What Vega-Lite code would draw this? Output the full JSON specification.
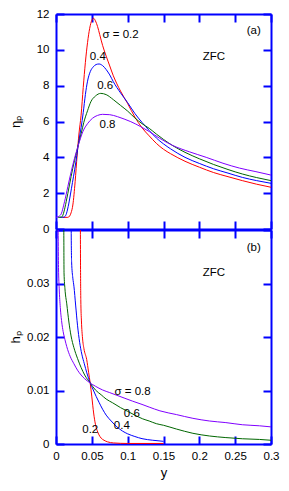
{
  "$schema": "https://vega.github.io/schema/vega-lite/v6.json",
  "padding": {"left": 9, "top": 8, "right": 2, "bottom": 4},
  "background": "white",
  "spacing": 1,
  "bounds": "flush",
  "config": {
    "view": {"stroke": null},
    "font": "Liberation Sans",
    "axis": {
      "grid": false,
      "domainColor": "#0000ff",
      "domainWidth": 2,
      "tickColor": "#0000ff",
      "tickWidth": 2,
      "labelColor": "black",
      "labelFont": "Liberation Sans",
      "labelFontSize": 11.5,
      "titleFont": "Liberation Sans",
      "titleFontSize": 13,
      "titleFontWeight": "normal",
      "titleColor": "black"
    }
  },
  "datasets": {
    "eta": [
      {"s":"0.2","x":0.009,"v":0.65},{"s":"0.2","x":0.0165,"v":0.65},{"s":"0.2","x":0.019,"v":0.72},{"s":"0.2","x":0.021,"v":0.9},{"s":"0.2","x":0.0235,"v":1.34},{"s":"0.2","x":0.0267,"v":2.64},{"s":"0.2","x":0.0295,"v":4.13},{"s":"0.2","x":0.032,"v":5.3},{"s":"0.2","x":0.035,"v":6.35},{"s":"0.2","x":0.038,"v":7.9},{"s":"0.2","x":0.041,"v":9.3},{"s":"0.2","x":0.044,"v":10.4},{"s":"0.2","x":0.047,"v":11.2},{"s":"0.2","x":0.05,"v":11.65},{"s":"0.2","x":0.0525,"v":11.76},{"s":"0.2","x":0.055,"v":11.62},{"s":"0.2","x":0.058,"v":11.3},{"s":"0.2","x":0.061,"v":10.85},{"s":"0.2","x":0.065,"v":10.25},{"s":"0.2","x":0.07,"v":9.65},{"s":"0.2","x":0.075,"v":9.1},{"s":"0.2","x":0.08,"v":8.55},{"s":"0.2","x":0.085,"v":8.1},{"s":"0.2","x":0.09,"v":7.7},{"s":"0.2","x":0.1,"v":7.0},{"s":"0.2","x":0.11,"v":6.25},{"s":"0.2","x":0.12,"v":5.65},{"s":"0.2","x":0.13,"v":5.2},{"s":"0.2","x":0.14,"v":4.78},{"s":"0.2","x":0.15,"v":4.45},{"s":"0.2","x":0.16,"v":4.2},{"s":"0.2","x":0.18,"v":3.78},{"s":"0.2","x":0.2,"v":3.45},{"s":"0.2","x":0.22,"v":3.15},{"s":"0.2","x":0.24,"v":2.92},{"s":"0.2","x":0.26,"v":2.7},{"s":"0.2","x":0.28,"v":2.5},{"s":"0.2","x":0.3,"v":2.33},
      {"s":"0.4","x":0.005,"v":0.65},{"s":"0.4","x":0.011,"v":0.66},{"s":"0.4","x":0.014,"v":0.8},{"s":"0.4","x":0.017,"v":1.25},{"s":"0.4","x":0.02,"v":1.9},{"s":"0.4","x":0.023,"v":2.6},{"s":"0.4","x":0.026,"v":3.3},{"s":"0.4","x":0.029,"v":4.1},{"s":"0.4","x":0.032,"v":4.95},{"s":"0.4","x":0.035,"v":5.65},{"s":"0.4","x":0.038,"v":6.5},{"s":"0.4","x":0.041,"v":7.5},{"s":"0.4","x":0.044,"v":8.25},{"s":"0.4","x":0.048,"v":8.8},{"s":"0.4","x":0.052,"v":9.05},{"s":"0.4","x":0.056,"v":9.18},{"s":"0.4","x":0.06,"v":9.21},{"s":"0.4","x":0.065,"v":9.12},{"s":"0.4","x":0.07,"v":8.9},{"s":"0.4","x":0.075,"v":8.6},{"s":"0.4","x":0.08,"v":8.22},{"s":"0.4","x":0.09,"v":7.6},{"s":"0.4","x":0.1,"v":7.05},{"s":"0.4","x":0.11,"v":6.45},{"s":"0.4","x":0.12,"v":5.95},{"s":"0.4","x":0.13,"v":5.5},{"s":"0.4","x":0.14,"v":5.08},{"s":"0.4","x":0.15,"v":4.75},{"s":"0.4","x":0.16,"v":4.47},{"s":"0.4","x":0.18,"v":4.0},{"s":"0.4","x":0.2,"v":3.66},{"s":"0.4","x":0.22,"v":3.36},{"s":"0.4","x":0.24,"v":3.12},{"s":"0.4","x":0.26,"v":2.88},{"s":"0.4","x":0.28,"v":2.7},{"s":"0.4","x":0.3,"v":2.55},
      {"s":"0.6","x":0.003,"v":0.65},{"s":"0.6","x":0.008,"v":0.67},{"s":"0.6","x":0.011,"v":0.95},{"s":"0.6","x":0.0142,"v":1.52},{"s":"0.6","x":0.0188,"v":2.46},{"s":"0.6","x":0.0234,"v":3.39},{"s":"0.6","x":0.0282,"v":4.22},{"s":"0.6","x":0.0305,"v":4.6},{"s":"0.6","x":0.0352,"v":5.34},{"s":"0.6","x":0.0388,"v":5.95},{"s":"0.6","x":0.044,"v":6.6},{"s":"0.6","x":0.0486,"v":7.1},{"s":"0.6","x":0.055,"v":7.42},{"s":"0.6","x":0.0625,"v":7.57},{"s":"0.6","x":0.07,"v":7.5},{"s":"0.6","x":0.08,"v":7.22},{"s":"0.6","x":0.09,"v":6.9},{"s":"0.6","x":0.1,"v":6.58},{"s":"0.6","x":0.11,"v":6.2},{"s":"0.6","x":0.12,"v":5.88},{"s":"0.6","x":0.13,"v":5.62},{"s":"0.6","x":0.14,"v":5.3},{"s":"0.6","x":0.15,"v":5.0},{"s":"0.6","x":0.163,"v":4.65},{"s":"0.6","x":0.18,"v":4.28},{"s":"0.6","x":0.2,"v":3.92},{"s":"0.6","x":0.22,"v":3.6},{"s":"0.6","x":0.24,"v":3.32},{"s":"0.6","x":0.26,"v":3.07},{"s":"0.6","x":0.28,"v":2.87},{"s":"0.6","x":0.3,"v":2.7},
      {"s":"0.8","x":0.0,"v":0.65},{"s":"0.8","x":0.0063,"v":0.78},{"s":"0.8","x":0.0119,"v":1.52},{"s":"0.8","x":0.0165,"v":2.36},{"s":"0.8","x":0.0212,"v":3.2},{"s":"0.8","x":0.0258,"v":3.94},{"s":"0.8","x":0.0305,"v":4.59},{"s":"0.8","x":0.0374,"v":5.43},{"s":"0.8","x":0.0444,"v":5.9},{"s":"0.8","x":0.0509,"v":6.18},{"s":"0.8","x":0.058,"v":6.34},{"s":"0.8","x":0.065,"v":6.4},{"s":"0.8","x":0.075,"v":6.38},{"s":"0.8","x":0.0858,"v":6.27},{"s":"0.8","x":0.095,"v":6.14},{"s":"0.8","x":0.1044,"v":5.99},{"s":"0.8","x":0.1183,"v":5.71},{"s":"0.8","x":0.1305,"v":5.43},{"s":"0.8","x":0.144,"v":5.08},{"s":"0.8","x":0.163,"v":4.66},{"s":"0.8","x":0.186,"v":4.31},{"s":"0.8","x":0.2096,"v":4.0},{"s":"0.8","x":0.233,"v":3.67},{"s":"0.8","x":0.256,"v":3.4},{"s":"0.8","x":0.279,"v":3.2},{"s":"0.8","x":0.3,"v":3.01}
    ],
    "hp": [
      {"s":"0.2","x":0.0338,"v":0.05},{"s":"0.2","x":0.0342,"v":0.034},{"s":"0.2","x":0.0346,"v":0.027},{"s":"0.2","x":0.0355,"v":0.023},{"s":"0.2","x":0.037,"v":0.0198},{"s":"0.2","x":0.039,"v":0.0178},{"s":"0.2","x":0.0428,"v":0.0158},{"s":"0.2","x":0.0455,"v":0.0134},{"s":"0.2","x":0.0477,"v":0.0114},{"s":"0.2","x":0.05,"v":0.0088},{"s":"0.2","x":0.0525,"v":0.0058},{"s":"0.2","x":0.055,"v":0.0037},{"s":"0.2","x":0.0575,"v":0.0025},{"s":"0.2","x":0.06,"v":0.0017},{"s":"0.2","x":0.063,"v":0.0011},{"s":"0.2","x":0.067,"v":0.0007},{"s":"0.2","x":0.072,"v":0.0004},{"s":"0.2","x":0.08,"v":0.0002},{"s":"0.2","x":0.1,"v":0.0001},{"s":"0.2","x":0.15,"v":0.0001},
      {"s":"0.4","x":0.0208,"v":0.05},{"s":"0.4","x":0.0212,"v":0.04},{"s":"0.4","x":0.0218,"v":0.034},{"s":"0.4","x":0.0235,"v":0.031},{"s":"0.4","x":0.025,"v":0.0295},{"s":"0.4","x":0.0275,"v":0.0258},{"s":"0.4","x":0.03,"v":0.0222},{"s":"0.4","x":0.033,"v":0.019},{"s":"0.4","x":0.036,"v":0.0168},{"s":"0.4","x":0.0395,"v":0.015},{"s":"0.4","x":0.043,"v":0.0133},{"s":"0.4","x":0.0477,"v":0.0114},{"s":"0.4","x":0.052,"v":0.0101},{"s":"0.4","x":0.056,"v":0.0089},{"s":"0.4","x":0.06,"v":0.0078},{"s":"0.4","x":0.065,"v":0.0065},{"s":"0.4","x":0.07,"v":0.0054},{"s":"0.4","x":0.077,"v":0.0043},{"s":"0.4","x":0.085,"v":0.0032},{"s":"0.4","x":0.093,"v":0.0024},{"s":"0.4","x":0.1,"v":0.0019},{"s":"0.4","x":0.11,"v":0.0014},{"s":"0.4","x":0.12,"v":0.001},{"s":"0.4","x":0.135,"v":0.0007},{"s":"0.4","x":0.15,"v":0.0005},
      {"s":"0.6","x":0.0105,"v":0.05},{"s":"0.6","x":0.0109,"v":0.04},{"s":"0.6","x":0.0112,"v":0.032},{"s":"0.6","x":0.0125,"v":0.029},{"s":"0.6","x":0.015,"v":0.0262},{"s":"0.6","x":0.018,"v":0.0228},{"s":"0.6","x":0.021,"v":0.0202},{"s":"0.6","x":0.025,"v":0.018},{"s":"0.6","x":0.03,"v":0.016},{"s":"0.6","x":0.035,"v":0.0143},{"s":"0.6","x":0.04,"v":0.0129},{"s":"0.6","x":0.0477,"v":0.0114},{"s":"0.6","x":0.055,"v":0.0101},{"s":"0.6","x":0.063,"v":0.0092},{"s":"0.6","x":0.07,"v":0.0084},{"s":"0.6","x":0.079,"v":0.0077},{"s":"0.6","x":0.09,"v":0.0068},{"s":"0.6","x":0.1,"v":0.0061},{"s":"0.6","x":0.11,"v":0.0054},{"s":"0.6","x":0.121,"v":0.0047},{"s":"0.6","x":0.13,"v":0.0043},{"s":"0.6","x":0.14,"v":0.0038},{"s":"0.6","x":0.15,"v":0.0035},{"s":"0.6","x":0.168,"v":0.0028},{"s":"0.6","x":0.191,"v":0.002},{"s":"0.6","x":0.214,"v":0.0015},{"s":"0.6","x":0.237,"v":0.0012},{"s":"0.6","x":0.26,"v":0.00098},{"s":"0.6","x":0.284,"v":0.00085},{"s":"0.6","x":0.3,"v":0.0007},
      {"s":"0.8","x":0.0025,"v":0.05},{"s":"0.8","x":0.003,"v":0.04},{"s":"0.8","x":0.0035,"v":0.033},{"s":"0.8","x":0.0045,"v":0.029},{"s":"0.8","x":0.006,"v":0.0255},{"s":"0.8","x":0.008,"v":0.0228},{"s":"0.8","x":0.01,"v":0.021},{"s":"0.8","x":0.0125,"v":0.0195},{"s":"0.8","x":0.015,"v":0.0182},{"s":"0.8","x":0.02,"v":0.0163},{"s":"0.8","x":0.025,"v":0.015},{"s":"0.8","x":0.03,"v":0.0138},{"s":"0.8","x":0.035,"v":0.0129},{"s":"0.8","x":0.04,"v":0.0122},{"s":"0.8","x":0.0477,"v":0.0114},{"s":"0.8","x":0.055,"v":0.0108},{"s":"0.8","x":0.065,"v":0.0101},{"s":"0.8","x":0.075,"v":0.0096},{"s":"0.8","x":0.085,"v":0.0091},{"s":"0.8","x":0.095,"v":0.0086},{"s":"0.8","x":0.107,"v":0.008},{"s":"0.8","x":0.12,"v":0.0074},{"s":"0.8","x":0.13,"v":0.0069},{"s":"0.8","x":0.145,"v":0.0062},{"s":"0.8","x":0.168,"v":0.0055},{"s":"0.8","x":0.191,"v":0.0048},{"s":"0.8","x":0.214,"v":0.0043},{"s":"0.8","x":0.237,"v":0.004},{"s":"0.8","x":0.26,"v":0.0036},{"s":"0.8","x":0.284,"v":0.0034},{"s":"0.8","x":0.3,"v":0.0032}
    ],
    "labA": [
      {"t":"σ = 0.2","x":0.0649,"v":10.83},
      {"t":"0.4","x":0.0472,"v":9.62},
      {"t":"0.6","x":0.0574,"v":7.97},
      {"t":"0.8","x":0.0607,"v":5.78},
      {"t":"(a)","x":0.2662,"v":11.07},
      {"t":"ZFC","x":0.2048,"v":9.62}
    ],
    "labB": [
      {"t":"σ = 0.8","x":0.0816,"v":0.00974},
      {"t":"0.6","x":0.0946,"v":0.00563},
      {"t":"0.4","x":0.0807,"v":0.00332},
      {"t":"0.2","x":0.0366,"v":0.00257},
      {"t":"(b)","x":0.2662,"v":0.0367},
      {"t":"ZFC","x":0.2048,"v":0.0319}
    ]
  },
  "vconcat": [
    {
      "width": 215,
      "height": 215,
      "layer": [
        {
          "data": {"name": "eta"},
          "mark": {"type": "line", "interpolate": "monotone", "strokeWidth": 1, "clip": true},
          "encoding": {
            "x": {"field": "x", "type": "quantitative",
              "scale": {"domain": [0, 0.3], "nice": false, "zero": false},
              "axis": {"orient": "bottom", "title": null, "labels": false,
                "values": [0,0.05,0.1,0.15,0.2,0.25,0.3], "tickSize": -8, "tickColor": "blue", "tickWidth": 2}},
            "y": {"field": "v", "type": "quantitative",
              "scale": {"domain": [0, 12], "nice": false},
              "axis": {"orient": "left", "title": "ηₚ",
                "values": [0,2,4,6,8,10,12], "format": "d", "tickSize": -8, "tickColor": "blue", "tickWidth": 2,
                "labelPadding": 15, "labelFlush": false,
                "titleX": -41, "titleY": 107.5, "titleAngle": -90, "titleAlign": "center", "titleBaseline": "middle"}},
            "color": {"field": "s", "type": "nominal", "legend": null,
              "scale": {"domain": ["0.2","0.4","0.6","0.8"], "range": ["#ff0000","#0000ff","#006600","#8000ff"]}}
          }
        },
        {
          "data": {"name": "labA"},
          "mark": {"type": "text", "align": "left", "baseline": "middle", "font": "Liberation Sans", "fontSize": 11.5, "color": "black"},
          "encoding": {
            "x": {"field": "x", "type": "quantitative",
              "axis": {"orient": "top", "title": null, "labels": false,
                "values": [0,0.05,0.1,0.15,0.2,0.25,0.3], "tickSize": -8, "tickColor": "blue", "tickWidth": 2}},
            "y": {"field": "v", "type": "quantitative",
              "axis": {"orient": "right", "title": null, "labels": false,
                "values": [0,2,4,6,8,10,12], "tickSize": -8, "tickColor": "blue", "tickWidth": 2}},
            "text": {"field": "t"}
          }
        }
      ],
      "resolve": {"axis": {"x": "independent", "y": "independent"}}
    },
    {
      "width": 215,
      "height": 214,
      "layer": [
        {
          "data": {"name": "hp"},
          "mark": {"type": "line", "interpolate": "monotone", "strokeWidth": 1, "clip": true},
          "encoding": {
            "x": {"field": "x", "type": "quantitative",
              "scale": {"domain": [0, 0.3], "nice": false, "zero": false},
              "axis": {"orient": "bottom", "title": "y",
                "values": [0,0.05,0.1,0.15,0.2,0.25,0.3], "format": ".2~f", "tickSize": -8, "tickColor": "blue", "tickWidth": 2,
                "labelPadding": 14.5, "labelFlush": false,
                "titleX": 107.5, "titleY": 28.5, "titleBaseline": "middle", "titleAlign": "center"}},
            "y": {"field": "v", "type": "quantitative",
              "scale": {"domain": [0, 0.04], "nice": false},
              "axis": {"orient": "left", "title": "hₚ",
                "values": [0,0.01,0.02,0.03,0.04], "labelExpr": "datum.value < 0.035 ? format(datum.value, '.2~f') : ''", "tickSize": -8, "tickColor": "blue", "tickWidth": 2,
                "labelPadding": 15, "labelFlush": false,
                "titleX": -41, "titleY": 107, "titleAngle": -90, "titleAlign": "center", "titleBaseline": "middle"}},
            "color": {"field": "s", "type": "nominal", "legend": null,
              "scale": {"domain": ["0.2","0.4","0.6","0.8"], "range": ["#ff0000","#0000ff","#006600","#8000ff"]}}
          }
        },
        {
          "data": {"name": "labB"},
          "mark": {"type": "text", "align": "left", "baseline": "middle", "font": "Liberation Sans", "fontSize": 11.5, "color": "black"},
          "encoding": {
            "x": {"field": "x", "type": "quantitative",
              "axis": {"orient": "top", "title": null, "labels": false,
                "values": [0,0.05,0.1,0.15,0.2,0.25,0.3], "tickSize": -8, "tickColor": "blue", "tickWidth": 2}},
            "y": {"field": "v", "type": "quantitative",
              "axis": {"orient": "right", "title": null, "labels": false,
                "values": [0,0.01,0.02,0.03,0.04], "tickSize": -8, "tickColor": "blue", "tickWidth": 2}},
            "text": {"field": "t"}
          }
        }
      ],
      "resolve": {"axis": {"x": "independent", "y": "independent"}}
    }
  ]
}
